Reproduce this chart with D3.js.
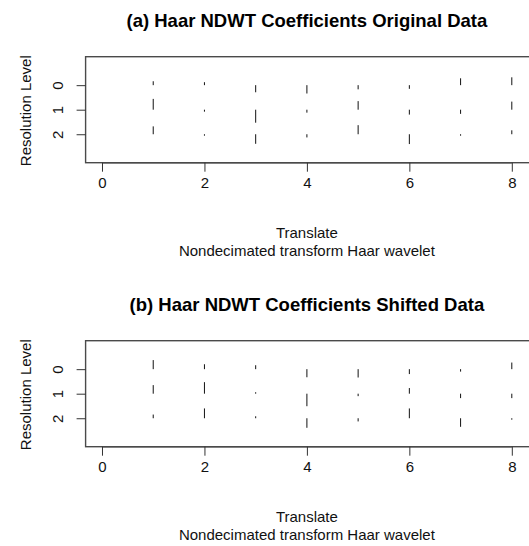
<!DOCTYPE html>
<html>
<head>
<meta charset="utf-8">
<script src="https://cdn.jsdelivr.net/npm/d3@7/dist/d3.min.js"></script>
<style>
  html, body { margin: 0; padding: 0; background: #fff; }
  svg { display: block; font-family: "Liberation Sans", Arial, sans-serif; }
</style>
</head>
<body>
<svg id="chart" width="529" height="546"></svg>
<script>
// Translate positions and resolution levels
const translates = [1, 2, 3, 4, 5, 6, 7, 8];
const levels = [0, 1, 2];
const xTicks = [0, 2, 4, 6, 8];
const yTickLabels = ["0", "1", "2"];

// Nondecimated Haar coefficients (original data), one array per level
const origLevel0 = [0.16, 0.12, -0.29, -0.34, -0.17, -0.15, 0.28, 0.32];
const origLevel1 = [0.44, -0.08, -0.53, -0.12, 0.35, -0.20, -0.17, 0.33];
const origLevel2 = [0.32, -0.06, -0.39, -0.13, 0.37, -0.40, -0.06, 0.16];

// Nondecimated Haar coefficients (shifted data)
const shiftLevel0 = [0.37, 0.20, 0.16, -0.33, -0.34, -0.20, -0.10, 0.27];
const shiftLevel1 = [0.35, 0.47, 0.06, -0.51, -0.10, 0.23, -0.18, -0.18];
const shiftLevel2 = [0.15, 0.40, 0.08, -0.39, -0.13, 0.40, -0.35, -0.06];

const panels = [
  { title: "(a) Haar NDWT Coefficients Original Data", coefs: [origLevel0, origLevel1, origLevel2], top: 0 },
  { title: "(b) Haar NDWT Coefficients Shifted Data", coefs: [shiftLevel0, shiftLevel1, shiftLevel2], top: 284 }
];

const svg = d3.select("#chart");
const plotLeft = 85.6, plotRight = 528.2, plotTop = 56.7, plotH = 106;
const ink = "#111";

panels.forEach(p => {
  const g = svg.append("g").attr("transform", `translate(0,${p.top})`);
  const x = d3.scaleLinear().domain([-0.32, 8.32]).range([plotLeft, plotRight]);
  const y = d3.scaleLinear().domain([-1.16, 3.16]).range([plotTop, plotTop + plotH]);

  // frame
  g.append("rect")
    .attr("x", plotLeft).attr("y", plotTop)
    .attr("width", 531 - plotLeft).attr("height", plotH)
    .attr("fill", "none").attr("stroke", "#4a4a4a").attr("stroke-width", 1.4);

  // coefficient segments: drawn from the level baseline, up for positive values
  const segs = [];
  levels.forEach((lv, i) => {
    p.coefs[i].forEach((v, j) => segs.push({ t: translates[j], lv, v }));
  });
  g.append("g").selectAll("line").data(segs).join("line")
    .attr("x1", d => x(d.t)).attr("x2", d => x(d.t))
    .attr("y1", d => y(d.lv)).attr("y2", d => y(d.lv - d.v))
    .attr("stroke", ink).attr("stroke-width", 1);

  // x axis
  const xAxis = d3.axisBottom(x).tickValues(xTicks).tickSize(9).tickPadding(4).tickFormat(d3.format("d"));
  const gx = g.append("g").attr("transform", `translate(0,${plotTop + plotH})`).call(xAxis);
  gx.select(".domain").attr("stroke", "#4a4a4a").attr("stroke-width", 1.4)
    .attr("d", `M${x(0)},0H${x(8)}`);
  gx.selectAll(".tick line").attr("stroke", "#333").attr("stroke-width", 1);
  gx.selectAll(".tick text").attr("font-size", 15).attr("fill", ink)
    .attr("font-family", "Liberation Sans, Arial, sans-serif").attr("dy", null).attr("y", 25);

  // y axis
  const yAxis = d3.axisLeft(y).tickValues(levels).tickSize(9).tickFormat((d, i) => yTickLabels[i]);
  const gy = g.append("g").attr("transform", `translate(${plotLeft},0)`).call(yAxis);
  gy.select(".domain").remove();
  gy.selectAll(".tick line").attr("stroke", "#333").attr("stroke-width", 1);
  gy.selectAll(".tick text")
    .attr("font-size", 15).attr("fill", ink)
    .attr("font-family", "Liberation Sans, Arial, sans-serif")
    .attr("x", null).attr("dy", null)
    .attr("text-anchor", "middle")
    .attr("transform", "translate(-23,0) rotate(-90)");

  // titles
  const cx = (plotLeft + plotRight) / 2;
  g.append("text").attr("x", cx).attr("y", 27).attr("text-anchor", "middle")
    .attr("font-size", 18.5).attr("font-weight", "bold").attr("fill", "#000").text(p.title);
  g.append("text").attr("x", cx).attr("y", 238).attr("text-anchor", "middle")
    .attr("font-size", 15).attr("fill", ink).text("Translate");
  g.append("text").attr("x", cx).attr("y", 256).attr("text-anchor", "middle")
    .attr("font-size", 15).attr("fill", ink).text("Nondecimated transform Haar wavelet");
  g.append("text")
    .attr("transform", `translate(31,${plotTop + plotH / 2 + 1}) rotate(-90)`)
    .attr("text-anchor", "middle").attr("font-size", 15).attr("fill", ink)
    .text("Resolution Level");
});
</script>
</body>
</html>
